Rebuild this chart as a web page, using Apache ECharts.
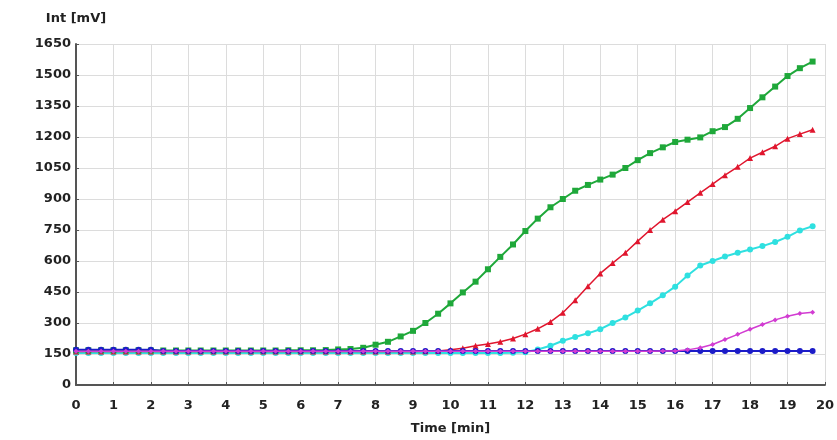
<!DOCTYPE html>
<html><head><meta charset="utf-8">
<script src="https://cdn.jsdelivr.net/npm/echarts@6/dist/echarts.min.js"></script>
<style>html,body{margin:0;padding:0;background:#fff}#c{width:837px;height:440px}</style>
</head><body><div id="c"></div>
<script>
var times = [0,0.33,0.67,1,1.33,1.67,2,2.33,2.67,3,3.33,3.67,4,4.33,4.67,5,5.33,5.67,6,6.33,6.67,7,7.33,7.67,8,8.33,8.67,9,9.33,9.67,10,10.33,10.67,11,11.33,11.67,12,12.33,12.67,13,13.33,13.67,14,14.33,14.67,15,15.33,15.67,16,16.33,16.67,17,17.33,17.67,18,18.33,18.67,19,19.33,19.67];
var greenVals = [168,168,168,168,168,168,167,167,167,167,167,167,167,167,167,167,167,168,168,168,169,172,174,180,195,209,235,262,300,345,395,448,500,560,620,680,745,805,860,900,940,968,994,1018,1050,1088,1122,1150,1176,1187,1198,1228,1248,1288,1340,1392,1444,1495,1533,1565];
var redVals = [162,162,162,162,162,162,162,162,162,162,162,162,162,162,162,162,162,162,162,162,162,162,162,162,162,162,162,162,163,165,170,178,190,198,209,225,246,272,305,350,410,478,540,590,640,696,750,800,841,885,930,972,1015,1056,1098,1126,1155,1192,1214,1235];
var cyanVals = [155,155,155,155,155,155,155,155,155,155,155,155,155,155,155,155,155,155,155,155,155,155,155,155,155,155,155,155,155,155,155,155,155,155,155,156,158,172,190,214,232,250,270,300,327,360,395,434,476,530,578,600,622,640,656,672,692,717,748,768];
var magentaVals = [163,163,163,163,163,163,163,163,163,163,163,163,163,163,163,163,163,163,163,163,163,163,163,163,163,163,163,163,163,163,163,163,163,163,163,163,163,163,163,163,163,163,163,163,163,163,163,164,165,170,180,196,220,245,270,293,315,333,346,352];
var blueVals = [171,171,171,171,171,171,171,165,165,165,165,165,165,165,165,165,165,165,165,165,165,165,165,165,165,165,165,165,165,165,165,165,165,165,165,165,165,165,165,165,165,165,165,165,165,165,165,165,165,165,165,165,165,165,165,165,165,165,165,165];
var yTicks = [0,150,300,450,600,750,900,1050,1200,1350,1500,1650];
var xTicks = [0,1,2,3,4,5,6,7,8,9,10,11,12,13,14,15,16,17,18,19,20];

function pairs(v){ return times.map(function(t,i){ return [t, v[i]]; }); }
function ser(name, vals, color, symbol, size, lw, z){
  return {name:name, type:'line', data:pairs(vals), symbol:symbol, symbolSize:size,
    showSymbol:true, lineStyle:{color:color, width:lw}, itemStyle:{color:color},
    z:z, animation:false};
}
var chart = echarts.init(document.getElementById('c'), null, {renderer:'canvas'});
var lab = {color:'#222', fontFamily:'DejaVu Sans', fontWeight:'bold', fontSize:13};
chart.setOption({
  animation:false,
  grid:{left:76, right:11, top:44, bottom:54, containLabel:false},
  xAxis:{type:'value', min:xTicks[0], max:xTicks[xTicks.length-1], interval:1,
    name:'Time [min]', nameLocation:'middle', nameGap:37,
    nameTextStyle:{color:'#222', fontFamily:'DejaVu Sans', fontWeight:'bold', fontSize:13},
    axisLine:{lineStyle:{color:'#555', width:2}},
    axisTick:{inside:true, length:3, lineStyle:{color:'#555'}},
    axisLabel:Object.assign({margin:14, formatter:function(v){return xTicks.indexOf(v)>=0?String(v):'';}}, lab),
    splitLine:{show:true, lineStyle:{color:'#dcdcdc', width:1}}},
  yAxis:{type:'value', min:yTicks[0], max:yTicks[yTicks.length-1], interval:150,
    name:'Int [mV]', nameLocation:'end', nameGap:19,
    nameTextStyle:{color:'#222', fontFamily:'DejaVu Sans', fontWeight:'bold', fontSize:13, align:'center'},
    axisLine:{show:true, lineStyle:{color:'#555', width:2}},
    axisTick:{show:true, inside:true, length:3, lineStyle:{color:'#555'}},
    axisLabel:Object.assign({margin:5, formatter:function(v){return String(v);}}, lab),
    splitLine:{show:true, lineStyle:{color:'#dcdcdc', width:1}}},
  series:[
    ser('cyan', cyanVals, '#2fe0e0', 'circle', 6, 2, 1),
    ser('red', redVals, '#e0162e', 'triangle', 6, 1.5, 2),
    ser('green', greenVals, '#1fa83a', 'rect', 6, 2, 3),
    ser('blue', blueVals, '#1c1cc8', 'circle', 6, 2, 4),
    ser('magenta', magentaVals, '#d23cd2', 'diamond', 5, 1.5, 5)
  ]
});
</script></body></html>
